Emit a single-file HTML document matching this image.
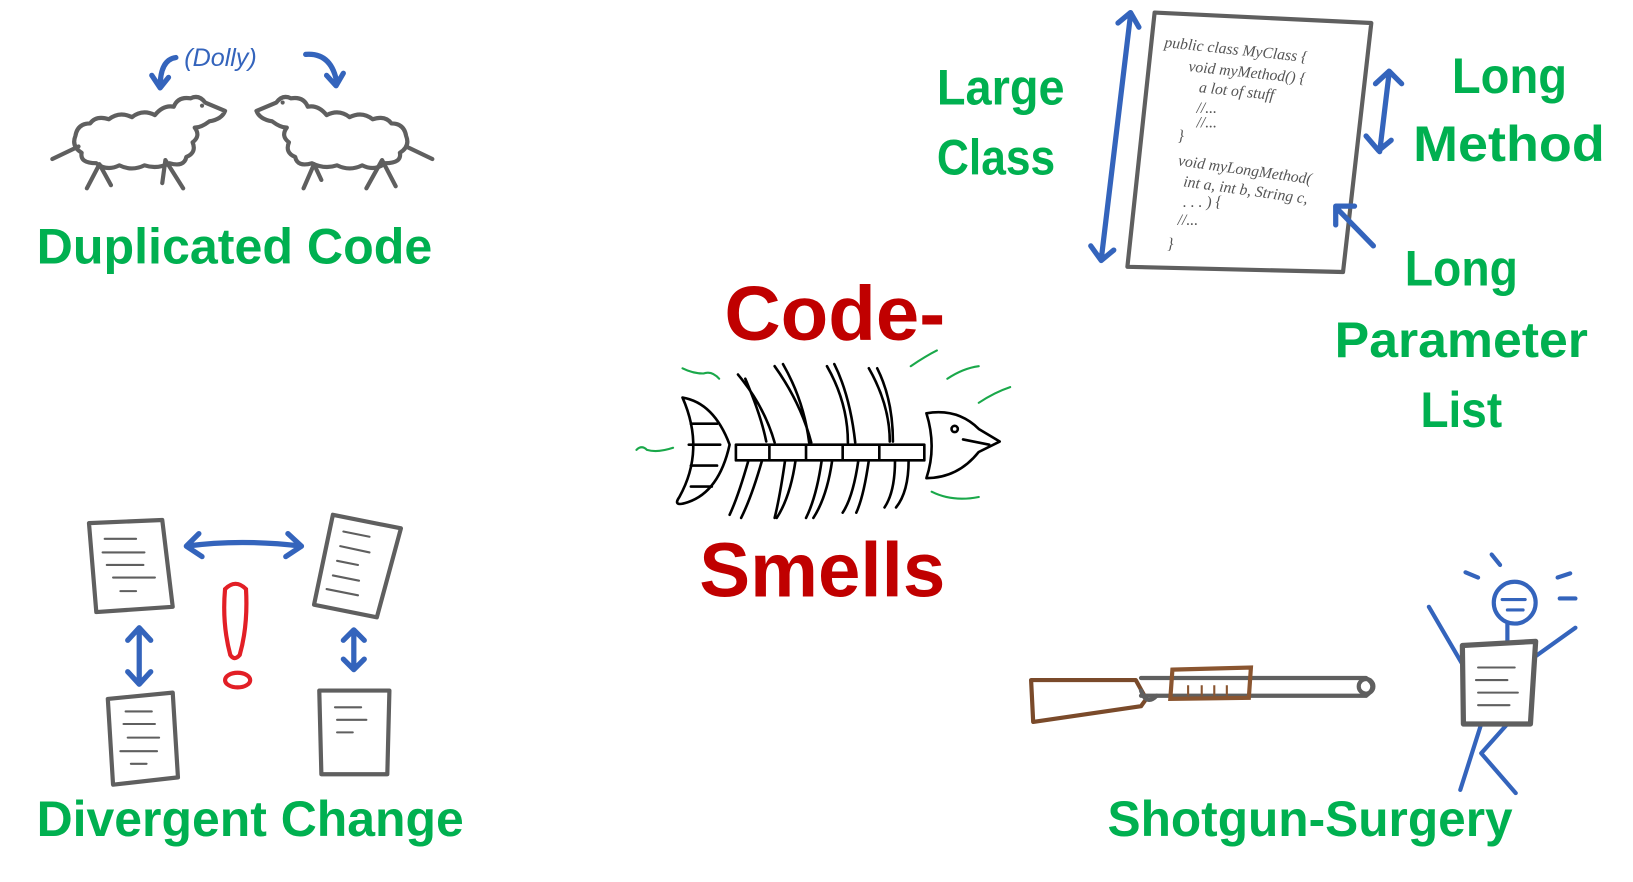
<!DOCTYPE html>
<html><head><meta charset="utf-8"><style>
html,body{margin:0;padding:0;background:#fff;width:1633px;height:882px;overflow:hidden}
svg{display:block}
.g{fill:#00B050;font-family:"Liberation Sans",sans-serif;font-weight:bold}
.r{fill:#C00000;font-family:"Liberation Sans",sans-serif;font-weight:bold}
.gr{fill:none;stroke:#5f5f5f;stroke-width:4;stroke-linejoin:round;stroke-linecap:round}
.bl{fill:none;stroke:#3464BC;stroke-width:5;stroke-linecap:round;stroke-linejoin:round}
.bk{fill:none;stroke:#000;stroke-width:2.5;stroke-linecap:round;stroke-linejoin:round}
.gn{fill:none;stroke:#1aa84a;stroke-width:2;stroke-linecap:round}
.ln{fill:none;stroke:#5f5f5f;stroke-width:2;stroke-linecap:round}
</style></head><body>
<svg width="1633" height="882" viewBox="0 0 1560 843" preserveAspectRatio="none">
<text class="g" x="35" y="252" font-size="48" textLength="378" lengthAdjust="spacingAndGlyphs">Duplicated Code</text>
<text class="g" x="35" y="799" font-size="48" textLength="408" lengthAdjust="spacingAndGlyphs">Divergent Change</text>
<text class="g" x="1058" y="799" font-size="48" textLength="387" lengthAdjust="spacingAndGlyphs">Shotgun-Surgery</text>
<text class="g" x="895" y="100" font-size="48" textLength="122" lengthAdjust="spacingAndGlyphs">Large</text>
<text class="g" x="895" y="167" font-size="48" textLength="113" lengthAdjust="spacingAndGlyphs">Class</text>
<text class="g" x="1387" y="89" font-size="48" textLength="110" lengthAdjust="spacingAndGlyphs">Long</text>
<text class="g" x="1350" y="154" font-size="48" textLength="183" lengthAdjust="spacingAndGlyphs">Method</text>
<text class="g" x="1342" y="273" font-size="48" textLength="108" lengthAdjust="spacingAndGlyphs">Long</text>
<text class="g" x="1275" y="341" font-size="48" textLength="242" lengthAdjust="spacingAndGlyphs">Parameter</text>
<text class="g" x="1357" y="408" font-size="48" textLength="78" lengthAdjust="spacingAndGlyphs">List</text>
<text class="r" x="692" y="325" font-size="74" textLength="211" lengthAdjust="spacingAndGlyphs">Code-</text>
<text class="r" x="668" y="570" font-size="74" textLength="235" lengthAdjust="spacingAndGlyphs">Smells</text>

<!-- sheep left -->
<path class="gr" d="M72,130 Q74,118 86,118 Q92,110 104,114 Q114,106 126,112 Q136,104 148,110 Q156,100 166,102 Q170,92 182,94 Q190,90 196,98 L215,106 Q212,114 200,116 Q192,122 186,122 Q192,130 184,136 Q188,146 178,150 Q176,160 162,156 Q150,162 138,158 Q126,164 114,158 Q102,164 92,156 Q76,156 78,146 Q68,140 72,130Z"/>
<path class="gr" d="M75,140 L50,152 M95,157 L83,180 M95,157 L106,177 M158,153 L155,175 M158,153 L175,180"/>
<circle cx="193" cy="101" r="2" fill="#5f5f5f"/>
<!-- sheep right -->
<path class="gr" d="M388,130 Q386,118 374,118 Q368,110 356,114 Q346,106 334,112 Q324,104 312,110 Q304,100 294,102 Q290,92 278,94 Q270,90 264,98 L245,106 Q248,114 260,116 Q268,122 274,122 Q268,130 276,136 Q272,146 282,150 Q284,160 298,156 Q310,162 322,158 Q334,164 346,158 Q358,164 368,156 Q384,156 382,146 Q392,140 388,130Z"/>
<path class="gr" d="M388,140 L413,152 M300,157 L290,180 M300,157 L307,172 M365,153 L350,180 M365,153 L378,178"/>
<circle cx="270" cy="98" r="2" fill="#5f5f5f"/>
<text x="176" y="63" font-family="Liberation Sans,sans-serif" font-size="24" fill="#3464BC" font-style="italic">(Dolly)</text>
<path class="bl" d="M168,55 q-15,2 -15,28 M145,72 l8,12 l8,-10"/>
<path class="bl" d="M292,52 q25,-2 30,28 M312,72 l9,10 l7,-12"/>

<path class="gr" d="M85,500 L155,497 L165,580 L92,585Z"/>
<path class="ln" d="M100,515h30 M98,528h40 M102,540h35 M108,552h40 M115,565h15"/>
<path class="gr" d="M318,492 L383,505 L360,590 L300,578Z"/>
<path class="ln" d="M328,508l25,5 M325,522l28,6 M322,536l20,4 M318,550l25,5 M312,563l30,6"/>
<path class="gr" d="M103,668 L165,662 L170,743 L108,750Z"/>
<path class="ln" d="M120,680h25 M118,692h30 M122,705h30 M115,718h35 M125,730h15"/>
<path class="gr" d="M305,660 L372,660 L370,740 L307,740Z"/>
<path class="ln" d="M320,676h25 M322,688h28 M322,700h15"/>
<path class="bl" d="M178,522 Q230,515 288,522 M190,510 l-12,12 l15,10 M275,510 l13,12 l-15,10"/>
<path class="bl" d="M133,602 V652 M122,612 l11,-12 l11,12 M122,642 l11,12 l11,-12"/>
<path class="bl" d="M338,602 V638 M328,612 l10,-10 l10,10 M328,630 l10,10 l10,-10"/>
<path d="M215,563 q10,-10 20,0 q2,35 -6,63 q-5,6 -9,0 q-8,-30 -5,-63z" fill="none" stroke="#e21f26" stroke-width="4"/>
<ellipse cx="227" cy="650" rx="12" ry="7" fill="none" stroke="#e21f26" stroke-width="4"/>

<path class="gr" d="M1103,12 L1310,22 L1283,260 L1077,255Z"/>
<g font-family="Liberation Serif,serif" font-style="italic" font-size="15" fill="#555">
<text x="1112" y="45" transform="rotate(6 1112 45)">public class MyClass {</text>
<text x="1135" y="68" transform="rotate(6 1135 68)">void myMethod() {</text>
<text x="1145" y="88" transform="rotate(6 1145 88)">a lot of stuff</text>
<text x="1143" y="108">//...</text><text x="1143" y="122">//...</text>
<text x="1125" y="135">}</text>
<text x="1125" y="158" transform="rotate(8 1125 158)">void myLongMethod(</text>
<text x="1130" y="178" transform="rotate(8 1130 178)">int a, int b, String c,</text>
<text x="1130" y="198">. . . ) {</text>
<text x="1125" y="215">//...</text><text x="1115" y="238">}</text>
</g>
<path class="bl" d="M1080,14 L1052,248 M1068,22 l12,-10 l8,14 M1042,235 l10,14 l12,-10"/>
<path class="bl" d="M1327,70 L1318,145 M1314,80 l13,-12 l12,12 M1305,130 l12,14 l12,-10"/>
<path class="bl" d="M1312,235 L1276,198 M1276,215 v-18 h18"/>

<path class="bk" d="M652,380 q30,5 45,45 q-10,45 -40,55 q-15,5 -8,-5 q25,-45 3,-95z"/>
<path class="bk" d="M660,405 h25 M658,425 h30 M660,445 h25 M660,465 h20"/>
<path class="bk" d="M705,358 q25,30 35,65 M712,362 q15,35 20,60 M740,350 q25,35 35,73 M748,348 q20,35 25,75 M790,350 q20,35 20,73 M797,348 q15,30 20,75 M830,352 q20,35 20,70 M838,352 q15,30 15,70"/>
<path class="bk" d="M703,425 h180 M703,440 h180 M703,425 v15 M735,425 v15 M770,425 v15 M805,425 v15 M840,425 v15 M883,425 v15"/>
<path class="bk" d="M715,440 q-10,35 -18,52 M728,440 q-10,35 -20,55 M750,440 q-5,35 -10,55 M760,440 q-5,35 -18,55 M785,440 q-5,35 -15,55 M795,440 q-5,35 -18,55 M820,440 q-5,35 -15,50 M830,440 q-5,35 -12,50 M855,440 q0,30 -10,45 M868,440 q0,30 -12,45"/>
<path class="bk" d="M885,395 q30,-5 50,15 l20,12 l-20,10 q-20,25 -50,25 q10,-30 0,-62z M920,420 l25,5"/>
<circle cx="912" cy="410" r="3" class="bk"/>
<path class="gn" d="M652,352 q10,5 20,5 q8,-3 15,5 M608,430 q5,-5 10,0 q10,3 25,-2 M870,350 q15,-10 25,-15 M905,362 q15,-10 30,-12 M935,385 q15,-10 30,-15 M890,470 q20,10 45,5"/>

<path d="M985,650 L1085,650 L1095,668 L1090,675 L987,690Z" fill="none" stroke="#7a4a2a" stroke-width="4" stroke-linejoin="round"/>
<path class="gr" d="M1090,648 H1305 q12,8 0,17 H1090"/>
<ellipse cx="1305" cy="656" rx="7" ry="7" class="gr"/>
<path d="M1120,640 L1195,638 L1193,667 L1118,668Z" fill="none" stroke="#8a5530" stroke-width="4"/>
<path d="M1135,655v10 M1148,655v10 M1160,655v10 M1172,655v10" stroke="#8a5530" stroke-width="2"/>
<path class="gr" d="M1090,660 q5,15 15,5"/>

<circle cx="1447" cy="576" r="20" class="bl" style="stroke-width:4"/>
<path class="bl" d="M1435,573 h22 M1440,583 h15" style="stroke-width:3"/>
<path class="bl" d="M1440,596 V615 M1400,640 L1365,580 M1463,630 L1505,600 M1415,692 L1395,755 M1440,692 L1415,720 L1448,758 M1425,530 L1433,540 M1400,547 L1412,552 M1488,552 L1500,548 M1490,572 H1505" style="stroke-width:4"/>
<path class="gr" d="M1397,617 L1467,613 L1462,692 L1398,692Z" style="fill:#fff;stroke-width:5"/>
<path class="ln" d="M1412,638h35 M1410,650h30 M1412,662h38 M1412,674h30"/>
</svg>
</body></html>
